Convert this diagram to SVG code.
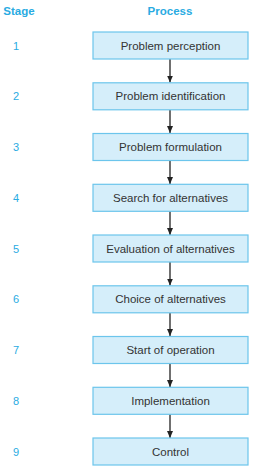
<svg xmlns="http://www.w3.org/2000/svg" width="256" height="471" viewBox="0 0 256 471">
<style>
.hdr{font-family:"Liberation Sans",Arial,sans-serif;font-weight:bold;font-size:11.5px;fill:#29abe2;text-anchor:middle}
.num{font-family:"Liberation Sans",Arial,sans-serif;font-size:11px;fill:#29abe2;text-anchor:middle}
.box{fill:#d5eefa;stroke:#6cc5ec;stroke-width:1.2}
.lbl{font-family:"Liberation Sans",Arial,sans-serif;font-size:11.5px;fill:#333;text-anchor:middle}
.arr{stroke:#222;stroke-width:1.3;fill:none;marker-end:url(#ah)}
</style>
<defs>
<marker id="ah" markerWidth="7" markerHeight="6" refX="7" refY="3" orient="auto" markerUnits="userSpaceOnUse" viewBox="0 0 7 6">
<path d="M0,0 L7,3 L0,6 z" fill="#222"/>
</marker>
</defs>
<text class="hdr" x="19" y="15">Stage</text>
<text class="hdr" x="170" y="15">Process</text>
<g id="connectors">
<line class="arr" x1="170" y1="59" x2="170" y2="82.5"/>
<line class="arr" x1="170" y1="110" x2="170" y2="133"/>
<line class="arr" x1="170" y1="160.5" x2="170" y2="184"/>
<line class="arr" x1="170" y1="211" x2="170" y2="235"/>
<line class="arr" x1="170" y1="262" x2="170" y2="285.5"/>
<line class="arr" x1="170" y1="313" x2="170" y2="336"/>
<line class="arr" x1="170" y1="363.5" x2="170" y2="387"/>
<line class="arr" x1="170" y1="414" x2="170" y2="438"/>
</g>
<g id="n1"><text class="num" x="16" y="49.5">1</text><rect class="box" x="93" y="32" width="155" height="27"/><text class="lbl" x="170.5" y="49.5">Problem perception</text></g>
<g id="n2"><text class="num" x="16" y="100.3">2</text><rect class="box" x="93" y="82.8" width="155" height="27"/><text class="lbl" x="170.5" y="100.3">Problem identification</text></g>
<g id="n3"><text class="num" x="16" y="151">3</text><rect class="box" x="93" y="133.5" width="155" height="27"/><text class="lbl" x="170.5" y="151">Problem formulation</text></g>
<g id="n4"><text class="num" x="16" y="201.8">4</text><rect class="box" x="93" y="184.3" width="155" height="27"/><text class="lbl" x="170.5" y="201.8">Search for alternatives</text></g>
<g id="n5"><text class="num" x="16" y="252.5">5</text><rect class="box" x="93" y="235" width="155" height="27"/><text class="lbl" x="170.5" y="252.5">Evaluation of alternatives</text></g>
<g id="n6"><text class="num" x="16" y="303.3">6</text><rect class="box" x="93" y="285.8" width="155" height="27"/><text class="lbl" x="170.5" y="303.3">Choice of alternatives</text></g>
<g id="n7"><text class="num" x="16" y="354">7</text><rect class="box" x="93" y="336.5" width="155" height="27"/><text class="lbl" x="170.5" y="354">Start of operation</text></g>
<g id="n8"><text class="num" x="16" y="404.8">8</text><rect class="box" x="93" y="387.3" width="155" height="27"/><text class="lbl" x="170.5" y="404.8">Implementation</text></g>
<g id="n9"><text class="num" x="16" y="455.5">9</text><rect class="box" x="93" y="438" width="155" height="27"/><text class="lbl" x="170.5" y="455.5">Control</text></g>
</svg>
